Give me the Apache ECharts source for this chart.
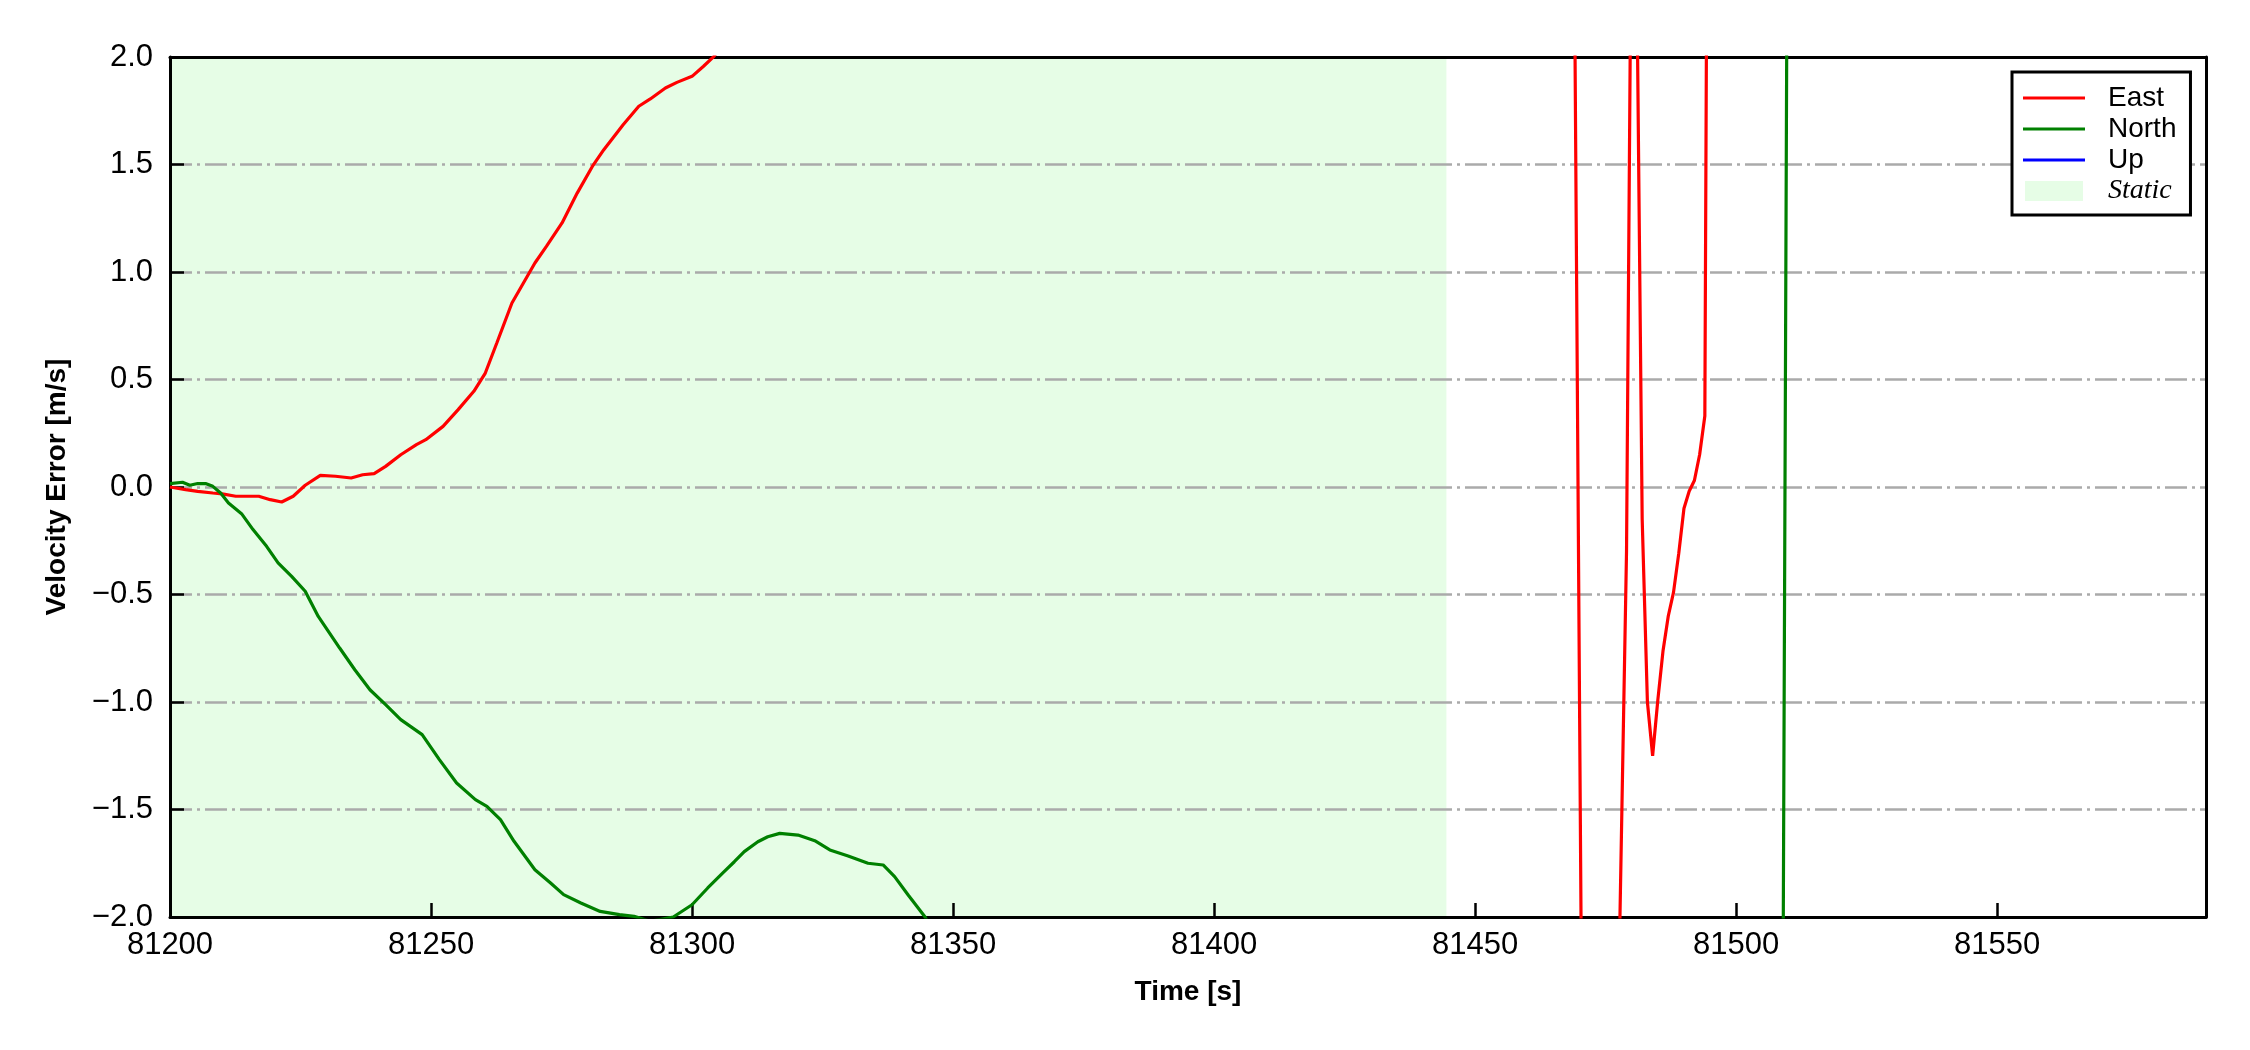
<!DOCTYPE html>
<html>
<head>
<meta charset="utf-8">
<script src="https://cdn.jsdelivr.net/npm/echarts@6/dist/echarts.min.js"></script>
<style>
html,body{margin:0;padding:0;background:#fff;}
#chart{width:2250px;height:1050px;}
</style>
</head>
<body>
<div id="chart"></div>
<script>
// ---- data ----
const eastTime = [81200, 81203, 81205.3, 81208.2, 81210, 81212.6, 81217, 81219.2, 81221.4, 81223.6, 81225.9, 81228.8, 81231.7, 81234.7, 81236.9, 81239.1, 81241.3, 81244.2, 81247.2, 81249, 81252.3, 81255.2, 81258.2, 81260.4, 81262.6, 81265.5, 81267.7, 81269.9, 81272.1, 81275.1, 81278, 81280.9, 81283.1, 81286.8, 81289.8, 81292, 81294.9, 81297.1, 81300, 81302.2, 81304.2, 81307, 81315, 81330, 81360, 81400, 81440, 81465, 81469, 81471, 81474, 81477, 81479, 81480, 81481, 81482, 81483, 81484, 81485, 81486, 81487, 81488, 81489, 81490, 81491, 81492, 81493, 81494, 81495, 81500, 81520];
const eastVel = [0.0, -0.012, -0.02, -0.028, -0.032, -0.043, -0.043, -0.059, -0.07, -0.043, 0.008, 0.054, 0.05, 0.042, 0.057, 0.062, 0.096, 0.15, 0.197, 0.22, 0.282, 0.36, 0.445, 0.53, 0.67, 0.856, 0.949, 1.042, 1.119, 1.228, 1.367, 1.491, 1.569, 1.685, 1.771, 1.805, 1.856, 1.882, 1.91, 1.957, 2.003, 2.1, 2.7, 3.6, 5.0, 6.5, 7.5, 8.0, 2.5, -4.5, -6.0, -3.0, -0.3, 3.0, 2.3, -0.15, -1.0, -1.25, -0.99, -0.76, -0.6, -0.49, -0.31, -0.1, -0.02, 0.03, 0.15, 0.33, 6.0, 9.0, 10.0];

const northTime = [81200, 81202.4, 81203.8, 81205.3, 81206.8, 81208.2, 81209.7, 81211.2, 81213.7, 81215.9, 81218.5, 81220.7, 81223.3, 81225.9, 81228.4, 81232.5, 81235.4, 81238.3, 81241.3, 81244.2, 81248.3, 81251.6, 81254.9, 81258.5, 81260.7, 81263.3, 81265.9, 81269.9, 81272.9, 81275.4, 81278.7, 81282.4, 81286.1, 81288.9, 81292, 81296.4, 81300, 81303, 81305.9, 81308.1, 81310, 81312.6, 81314.5, 81316.8, 81320.3, 81323.5, 81326.4, 81329.9, 81333.7, 81336.6, 81338.8, 81341.4, 81344.6, 81347, 81360, 81400, 81450, 81490, 81508, 81509, 81510, 81520];
const northVel = [0.016, 0.022, 0.008, 0.016, 0.016, 0.003, -0.028, -0.074, -0.124, -0.198, -0.276, -0.353, -0.416, -0.485, -0.602, -0.749, -0.85, -0.943, -1.012, -1.082, -1.152, -1.268, -1.377, -1.454, -1.485, -1.547, -1.648, -1.78, -1.842, -1.896, -1.935, -1.974, -1.989, -1.997, -2.02, -2.0, -1.943, -1.865, -1.795, -1.743, -1.696, -1.65, -1.627, -1.611, -1.619, -1.645, -1.688, -1.716, -1.75, -1.758, -1.812, -1.898, -1.999, -2.1, -2.8, -3.5, -3.2, -2.9, -2.5, -2.2, 4.0, 5.0];

// Up component: no visible samples inside the plotted range
const upTime = [];
const upVel = [];

const staticSpan = [81200, 81444.5];
const seriesNames = ['East', 'North', 'Up', 'Static'];
const seriesColors = ['#ff0000', '#008000', '#0000ff', '#e6fde6'];

// ---- chart ----
const zip = (t, v) => t.map((x, i) => [x, v[i]]);
const FONT = 'Liberation Sans';
const lineIcon = 'path://M0,0H62V3H0Z';
const rectIcon = 'path://M0,0H58V20H0Z';

const chart = echarts.init(document.getElementById('chart'), null, {renderer: 'canvas'});

const frameLine = {show: true, onZero: false, lineStyle: {color: '#000', width: 3}};
const tickStyle = {show: true, inside: true, length: 14, lineStyle: {color: '#000', width: 2.5}};

const option = {
  animation: false,
  backgroundColor: '#ffffff',
  grid: {left: 170, right: 44, top: 57, bottom: 133},
  legend: {
    orient: 'vertical',
    left: 2012, top: 72,
    itemWidth: 62, itemHeight: 20, itemGap: 3,
    padding: [12, 14, 10, 11],
    borderColor: '#000', borderWidth: 3, borderRadius: 0,
    backgroundColor: '#ffffff',
    selectedMode: false,
    textStyle: {fontFamily: FONT, fontSize: 28, color: '#000', padding: [0, 0, 0, 18]},
    data: [
      {name: seriesNames[0], icon: lineIcon, itemStyle: {color: seriesColors[0], borderWidth: 0}},
      {name: seriesNames[1], icon: lineIcon, itemStyle: {color: seriesColors[1], borderWidth: 0}},
      {name: seriesNames[2], icon: lineIcon, itemStyle: {color: seriesColors[2], borderWidth: 0}},
      {name: seriesNames[3], icon: rectIcon, itemStyle: {color: seriesColors[3], borderWidth: 0},
       textStyle: {fontFamily: 'Liberation Serif', fontStyle: 'italic', fontSize: 28}}
    ]
  },
  xAxis: [{
    type: 'value', min: 81200, max: 81590, interval: 50,
    name: 'Time [s]', nameLocation: 'middle', nameGap: 61,
    nameTextStyle: {fontFamily: FONT, fontWeight: 'bold', fontSize: 28, color: '#000'},
    axisLine: frameLine, axisTick: tickStyle,
    axisLabel: {fontFamily: FONT, fontSize: 31, color: '#000', margin: 13,
      formatter: v => (Math.round(v) % 50 === 0 ? String(v) : '')},
    splitLine: {show: false}
  }, {
    type: 'value', position: 'top', min: 81200, max: 81590,
    axisLine: frameLine, axisTick: {show: false}, axisLabel: {show: false}, splitLine: {show: false}
  }],
  yAxis: [{
    type: 'value', min: -2, max: 2, interval: 0.5,
    name: 'Velocity Error [m/s]', nameLocation: 'middle', nameGap: 99,
    nameTextStyle: {fontFamily: FONT, fontWeight: 'bold', fontSize: 28, color: '#000'},
    axisLine: frameLine, axisTick: tickStyle,
    axisLabel: {fontFamily: FONT, fontSize: 31, color: '#000', margin: 17,
      formatter: v => (v < 0 ? '\u2212' : '') + Math.abs(v).toFixed(1)},
    splitLine: {show: true, lineStyle: {color: '#aaaaaa', width: 2.5, type: [22, 5, 3, 5]}}
  }, {
    type: 'value', position: 'right', min: -2, max: 2, interval: 0.5,
    axisLine: frameLine, axisTick: {show: false}, axisLabel: {show: false}, splitLine: {show: false}
  }],
  series: [
    {
      name: seriesNames[3], type: 'line', data: [], color: seriesColors[3],
      symbol: 'none', lineStyle: {width: 0},
      markArea: {
        silent: true, z: -1,
        label: {show: false},
        itemStyle: {color: seriesColors[3]},
        data: [[{xAxis: staticSpan[0]}, {xAxis: staticSpan[1]}]]
      }
    },
    {name: seriesNames[0], type: 'line', data: zip(eastTime, eastVel), color: seriesColors[0],
     symbol: 'none', clip: true, lineStyle: {color: seriesColors[0], width: 3.2}, z: 3},
    {name: seriesNames[1], type: 'line', data: zip(northTime, northVel), color: seriesColors[1],
     symbol: 'none', clip: true, lineStyle: {color: seriesColors[1], width: 3.2}, z: 3},
    {name: seriesNames[2], type: 'line', data: zip(upTime, upVel), color: seriesColors[2],
     symbol: 'none', clip: true, lineStyle: {color: seriesColors[2], width: 3.2}, z: 3}
  ]
};
chart.setOption(option);
</script>
</body>
</html>
